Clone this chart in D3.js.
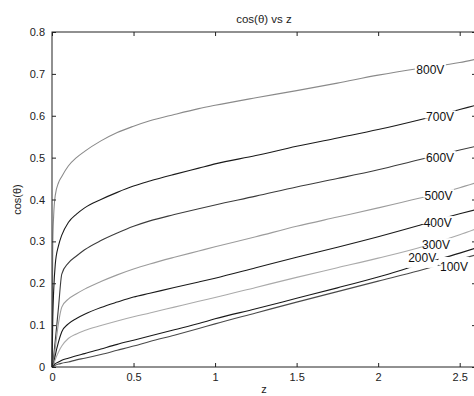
<!DOCTYPE html>
<html><head><meta charset="utf-8">
<script src="https://cdn.jsdelivr.net/npm/d3@7"></script>
<style>
body{margin:0;background:#fff;}
svg{display:block;font-family:"Liberation Sans",Arial,sans-serif;}
</style>
</head><body><svg id="c" width="474" height="396"></svg>
<script>
// ---- data ----
const zValues = [0, 0.005, 0.01, 0.02, 0.04, 0.06, 0.1, 0.15, 0.2, 0.3, 0.4, 0.5, 0.6, 0.75, 0.9, 1.0, 1.25, 1.5, 1.75, 2.0, 2.25, 2.5, 2.6];
const v800 = [0, 0.30, 0.36, 0.41, 0.44, 0.455, 0.48, 0.50, 0.515, 0.54, 0.56, 0.575, 0.588, 0.603, 0.617, 0.625, 0.643, 0.66, 0.678, 0.697, 0.713, 0.727, 0.735];
const v700 = [0, 0.12, 0.18, 0.245, 0.29, 0.315, 0.345, 0.365, 0.38, 0.40, 0.417, 0.432, 0.444, 0.46, 0.475, 0.485, 0.505, 0.527, 0.547, 0.567, 0.59, 0.615, 0.625];
const v600 = [0, 0, 0.024, 0.063, 0.143, 0.222, 0.248, 0.265, 0.28, 0.302, 0.32, 0.336, 0.349, 0.364, 0.378, 0.387, 0.408, 0.43, 0.45, 0.471, 0.495, 0.518, 0.527];
const v500 = [0, 0, 0.012, 0.045, 0.105, 0.143, 0.162, 0.175, 0.186, 0.204, 0.22, 0.234, 0.246, 0.262, 0.277, 0.287, 0.311, 0.336, 0.358, 0.38, 0.403, 0.428, 0.44];
const v400 = [0, 0, 0.008, 0.028, 0.06, 0.084, 0.103, 0.116, 0.126, 0.142, 0.155, 0.167, 0.176, 0.19, 0.203, 0.212, 0.237, 0.262, 0.286, 0.311, 0.338, 0.366, 0.376];
const v300 = [0, 0, 0.006, 0.018, 0.036, 0.05, 0.068, 0.079, 0.087, 0.099, 0.11, 0.12, 0.129, 0.143, 0.157, 0.166, 0.19, 0.214, 0.237, 0.26, 0.285, 0.316, 0.33];
const v200 = [0, 0.002, 0.004, 0.008, 0.012, 0.016, 0.021, 0.027, 0.032, 0.043, 0.054, 0.064, 0.074, 0.089, 0.104, 0.115, 0.139, 0.164, 0.189, 0.215, 0.244, 0.272, 0.284];
const v100 = [0, 0.001, 0.002, 0.004, 0.007, 0.009, 0.012, 0.017, 0.021, 0.03, 0.04, 0.05, 0.061, 0.076, 0.092, 0.103, 0.129, 0.155, 0.18, 0.205, 0.23, 0.257, 0.268];
const seriesNames = ["800V", "700V", "600V", "500V", "400V", "300V", "200V", "100V"];
const seriesValues = [v800, v700, v600, v500, v400, v300, v200, v100];
const labelZ = [2.32, 2.38, 2.38, 2.37, 2.365, 2.355, 2.27, 2.465];
const xTicks = [0, 0.5, 1, 1.5, 2, 2.5];
const yTicks = [0, 0.1, 0.2, 0.3, 0.4, 0.5, 0.6, 0.7, 0.8];
const titleText = "cos(θ) vs z";
const xLabel = "z";
const yLabel = "cos(θ)";

// ---- styles ----
const seriesColors = ["#8a8a8a", "#1a1a1a", "#3c3c3c", "#9c9c9c", "#1a1a1a", "#aaaaaa", "#1a1a1a", "#4a4a4a"];
const labelShift = [3, 3, 3, 3, 3, 3, -6, 6];
const L = 52, R = 476, T = 32, B = 367;

const svg = d3.select("#c");
const x = d3.scaleLinear().domain([0, 2.6]).range([L, R]);
const y = d3.scaleLinear().domain([0, 0.8]).range([B, T]);

// curves
const line = d3.line().x(d => x(d[0])).y(d => y(d[1])).curve(d3.curveMonotoneX);
seriesValues.forEach((vals, i) => {
  svg.append("path")
    .attr("d", line(zValues.map((z, j) => [z, vals[j]])))
    .attr("fill", "none")
    .attr("stroke", seriesColors[i])
    .attr("stroke-width", 1.1);
});

// inline labels
seriesValues.forEach((vals, i) => {
  const interp = d3.scaleLinear().domain(zValues).range(vals);
  const cx = x(labelZ[i]);
  const cy = y(interp(labelZ[i]));
  const ty = cy + labelShift[i];
  const g = svg.append("g");
  const rect = g.append("rect").attr("fill", "#fff");
  const t = g.append("text")
    .attr("x", cx).attr("y", ty)
    .attr("text-anchor", "middle")
    .attr("dominant-baseline", "central")
    .attr("font-size", 12)
    .attr("fill", "#111")
    .text(seriesNames[i]);
  const bb = t.node().getBBox();
  rect.attr("x", bb.x - 1.5).attr("y", cy - 4).attr("width", bb.width + 3).attr("height", 8);
});

// axes
const fmt = d => d === 0 ? "0" : d3.format("~g")(d);
const styleAxis = g => {
  g.select(".domain").remove();
  g.selectAll("line").attr("stroke", "#222");
  g.selectAll("text").attr("font-size", 11).attr("fill", "#222").attr("font-family", "Liberation Sans, Arial, sans-serif");
};
svg.append("g").attr("transform", `translate(0,${B})`)
  .call(d3.axisBottom(x).tickValues(xTicks).tickSize(-4).tickPadding(6).tickFormat(fmt)).call(styleAxis);
svg.append("g").attr("transform", `translate(${L},0)`)
  .call(d3.axisLeft(y).tickValues(yTicks).tickSize(-4).tickPadding(7).tickFormat(fmt)).call(styleAxis);
svg.append("g").attr("transform", `translate(0,${T})`)
  .call(d3.axisTop(x).tickValues(xTicks).tickSize(-4).tickFormat("")).call(styleAxis);
svg.append("g").attr("transform", `translate(${R},0)`)
  .call(d3.axisRight(y).tickValues(yTicks).tickSize(-4).tickFormat("")).call(styleAxis);

// frame
svg.append("rect").attr("x", L).attr("y", T).attr("width", R - L).attr("height", B - T)
  .attr("fill", "none").attr("stroke", "#222").attr("stroke-width", 1);

// titles
svg.append("text").attr("x", (L + R) / 2).attr("y", 23).attr("text-anchor", "middle")
  .attr("font-size", 11.5).attr("fill", "#222").text(titleText);
svg.append("text").attr("x", (L + R) / 2).attr("y", 393).attr("text-anchor", "middle")
  .attr("font-size", 11).attr("fill", "#222").text(xLabel);
svg.append("text").attr("transform", `translate(21,${(T + B) / 2}) rotate(-90)`).attr("text-anchor", "middle")
  .attr("font-size", 11).attr("fill", "#222").text(yLabel);
</script>
</body></html>
